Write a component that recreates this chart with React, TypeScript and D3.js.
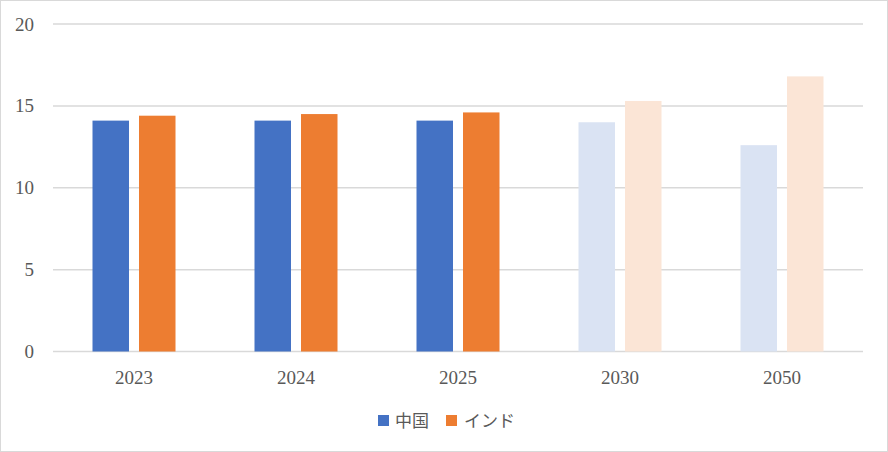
import React from "react";
import * as d3 from "d3";

const categories = ["2023", "2024", "2025", "2030", "2050"];
const chinaValues = [14.1, 14.1, 14.1, 14.0, 12.6];
const indiaValues = [14.4, 14.5, 14.6, 15.3, 16.8];
const projected = ["2030", "2050"];
const yTicks = [0, 5, 10, 15, 20];
const seriesNames = ["中国", "インド"];

const W = 888;
const H = 452;
const serif = "'Liberation Serif', 'DejaVu Serif', serif";
const cjk = "'Noto Sans CJK JP', sans-serif";

export default function App() {
  const left = 53;
  const right = 863;
  const top = 24;
  const bottom = 351.5;

  const x = d3.scaleBand<string>().domain(categories).range([left, right]).paddingInner(0).paddingOuter(0);
  const y = d3.scaleLinear().domain([0, 20]).range([bottom, top]);
  const inner = d3.scaleBand<string>().domain(seriesNames).range([0, 83]).paddingInner(0.215);
  const groupOffset = (x.bandwidth() - 83) / 2;

  const solid = ["#4472C4", "#ED7D31"];
  const faded = ["#DAE3F3", "#FBE5D6"];
  const series = [chinaValues, indiaValues];

  return (
    <div style={{ position: "absolute", left: 0, top: 0 }}>
      <svg width={W} height={H} style={{ display: "block" }}>
        <rect x={0.5} y={0.5} width={W - 1} height={H - 1} fill="#fff" stroke="#D9D9D9" strokeWidth={1} />
        {yTicks.map((t) => (
          <g key={t}>
            <line x1={left} x2={right} y1={y(t)} y2={y(t)} stroke="#D9D9D9" strokeWidth={1.5} />
            <text x={34} y={y(t) + 6.5} textAnchor="end" fontFamily={serif} fontSize={19} fill="#595959">
              {t}
            </text>
          </g>
        ))}
        {categories.map((c, i) => (
          <g key={c}>
            {series.map((vals, s) => {
              const isProj = projected.includes(c);
              const bx = (x(c) as number) + groupOffset + (inner(seriesNames[s]) as number);
              return (
                <rect
                  key={s}
                  x={bx}
                  y={y(vals[i])}
                  width={inner.bandwidth()}
                  height={y(0) - y(vals[i])}
                  fill={isProj ? faded[s] : solid[s]}
                />
              );
            })}
            <text
              x={(x(c) as number) + x.bandwidth() / 2}
              y={384}
              textAnchor="middle"
              fontFamily={serif}
              fontSize={19}
              fill="#595959"
            >
              {c}
            </text>
          </g>
        ))}
        <g>
          <rect x={378} y={415} width={11} height={11} fill={solid[0]} />
          <text x={395} y={427} fontFamily={cjk} fontSize={17} fill="#595959">
            {seriesNames[0]}
          </text>
          <rect x={446} y={415} width={11} height={11} fill={solid[1]} />
          <text x={464} y={427} fontFamily={cjk} fontSize={17} fill="#595959">
            {seriesNames[1]}
          </text>
        </g>
      </svg>
    </div>
  );
}
